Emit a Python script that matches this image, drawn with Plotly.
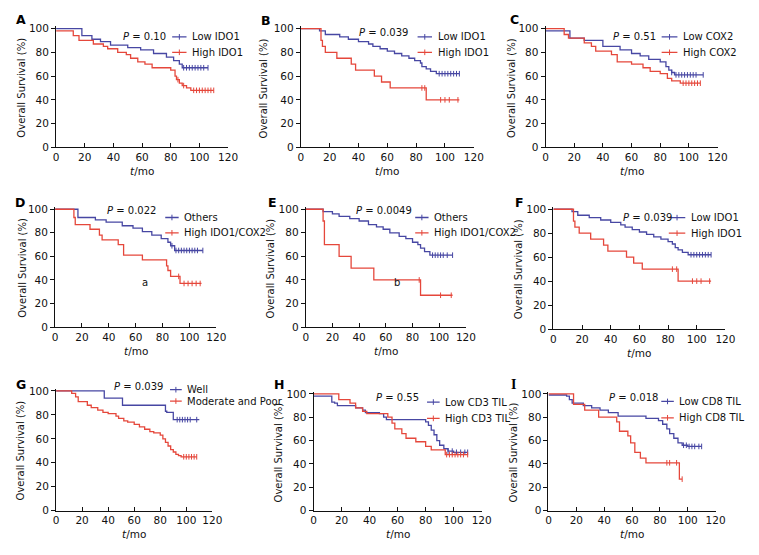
import numpy as np
import plotly.graph_objects as go

W, H = 759, 555
BLUE = "#4747a3"
RED = "#e5473b"
FONT = "DejaVu Sans"

# ---------------- data (time in months, survival in %) ----------------
A_low_t = [0, 18, 25, 31, 38, 50, 59, 68, 77, 82, 86, 88]
A_low_s = [100, 94, 91, 89, 86, 84, 82, 79, 76, 73, 70, 67]
A_low_end = 106
A_low_c = [89, 91, 93, 95, 97, 99, 101, 103, 106]
A_high_t = [0, 12, 16, 26, 33, 36, 43, 49, 52, 57, 62, 67, 80, 83, 84, 86, 88, 91, 94]
A_high_s = [98, 94, 90, 87, 85, 83, 80, 78, 75, 72, 70, 67, 65, 60, 57, 54, 52, 50, 48]
A_high_end = 110
A_high_c = [85, 89, 96, 98, 100, 102, 104, 106, 108, 110]

B_low_t = [0, 13, 17, 27, 33, 40, 47, 50, 55, 60, 65, 70, 75, 79, 83, 84, 87, 90, 94]
B_low_s = [100, 98, 95, 93, 91, 89, 87, 85, 83, 81, 79, 77, 75, 73, 71, 68, 66, 64, 62]
B_low_end = 110
B_low_c = [96, 98, 100, 102, 104, 106, 108, 110]
B_high_t = [0, 14, 15, 17, 25, 35, 38, 51, 56, 62, 87]
B_high_s = [100, 90, 85, 80, 75, 70, 65, 60, 55, 50, 40]
B_high_end = 110
B_high_c = [84, 86, 97, 100, 103, 109]

C_low_t = [0, 17, 27, 40, 52, 60, 66, 72, 80, 84, 86, 88, 90]
C_low_s = [98, 92, 90, 85, 82, 79, 77, 74, 72, 68, 65, 63, 61]
C_low_end = 110
C_low_c = [88, 91, 93, 95, 97, 99, 101, 103, 105, 110]
C_high_t = [0, 13, 16, 27, 32, 35, 46, 50, 60, 68, 73, 80, 85, 88, 94]
C_high_s = [100, 95, 92, 88, 85, 81, 78, 72, 70, 67, 64, 62, 58, 56, 54]
C_high_end = 108
C_high_c = [96, 98, 100, 102, 104, 106, 108]

D_oth_t = [0, 17, 30, 38, 50, 58, 65, 72, 79, 84, 86, 89]
D_oth_s = [100, 93, 91, 89, 86, 84, 81, 78, 75, 72, 69, 65]
D_oth_end = 110
D_oth_c = [87, 90, 92, 94, 96, 98, 100, 102, 104, 106, 110]
D_high_t = [0, 14, 15, 26, 33, 35, 47, 51, 65, 83, 84, 86, 93]
D_high_s = [100, 93, 87, 83, 78, 74, 70, 61, 57, 52, 48, 43, 37]
D_high_end = 109
D_high_c = [92, 96, 99, 102, 105, 108]

E_oth_t = [0, 13, 20, 25, 33, 40, 47, 53, 58, 63, 70, 75, 80, 84, 86, 89, 93]
E_oth_s = [100, 98, 96, 94, 92, 90, 87, 85, 83, 80, 77, 75, 72, 70, 67, 64, 61]
E_oth_end = 110
E_oth_c = [95, 97, 99, 101, 103, 106, 110]
E_high_t = [0, 13, 14, 25, 34, 51, 86]
E_high_s = [100, 90, 70, 60, 50, 40, 27]
E_high_end = 110
E_high_c = [85, 101, 109]

F_low_t = [0, 13, 17, 25, 33, 40, 47, 50, 55, 60, 65, 70, 75, 80, 83, 85, 87, 90, 94]
F_low_s = [100, 98, 95, 93, 91, 89, 87, 85, 83, 81, 79, 77, 75, 73, 71, 68, 66, 64, 62]
F_low_end = 110
F_low_c = [96, 98, 100, 102, 104, 106, 108, 110]
F_high_t = [0, 14, 15, 18, 26, 35, 38, 51, 56, 62, 87]
F_high_s = [100, 90, 85, 80, 75, 70, 65, 60, 55, 50, 40]
F_high_end = 110
F_high_c = [83, 86, 97, 100, 103, 109]

G_well_t = [0, 37, 51, 84, 85, 90]
G_well_s = [100, 94, 88, 83, 82, 76]
G_well_end = 110
G_well_c = [93, 95, 97, 99, 101, 103, 108]
G_mod_t = [0, 12, 15, 17, 24, 27, 32, 36, 40, 46, 48, 52, 55, 60, 64, 68, 72, 75, 80, 82, 84, 86, 88, 90, 92, 94, 96]
G_mod_s = [100, 98, 95, 91, 88, 86, 84, 82, 81, 79, 77, 75, 74, 72, 70, 68, 66, 65, 63, 60, 57, 54, 51, 49, 47, 46, 45]
G_mod_end = 108
G_mod_c = [98, 100, 102, 104, 106, 108]

H_low_t = [0, 13, 15, 17, 30, 35, 37, 47, 50, 52, 80, 82, 84, 86, 88, 90, 93, 96, 100]
H_low_s = [98, 93, 92, 90, 88, 86, 84, 83, 80, 78, 76, 73, 69, 65, 60, 56, 53, 51, 50]
H_low_end = 110
H_low_c = [96, 99, 102, 105, 108, 110]
H_high_t = [0, 18, 26, 30, 35, 38, 53, 56, 58, 63, 66, 73, 80, 84, 94]
H_high_s = [100, 95, 92, 88, 85, 83, 80, 75, 70, 66, 62, 59, 55, 52, 48]
H_high_end = 110
H_high_c = [95, 97, 99, 101, 103, 105, 107, 110]

I_low_t = [0, 13, 15, 17, 25, 31, 37, 43, 50, 70, 79, 82, 85, 87, 90, 93, 96, 100]
I_low_s = [99, 98, 95, 92, 90, 88, 86, 84, 81, 79, 77, 74, 70, 66, 62, 58, 56, 55]
I_low_end = 110
I_low_c = [97, 99, 101, 103, 105, 108, 110]
I_high_t = [0, 18, 26, 36, 49, 51, 57, 59, 62, 66, 70, 94]
I_high_s = [100, 91, 86, 80, 76, 68, 64, 58, 50, 45, 41, 27]
I_high_end = 96
I_high_c = [85, 87, 92, 96]

x_ticks = [0, 20, 40, 60, 80, 100, 120]
y_ticks = [0, 20, 40, 60, 80, 100]

panels = [
    dict(letter="A", box=(54, 229, 25, 146), ytx=19, lxy=(18, 16),
         curves=[(A_low_t, A_low_s, A_low_end, A_low_c, BLUE), (A_high_t, A_high_s, A_high_end, A_high_c, RED)],
         names=["Low IDO1", "High IDO1"], p="0.10", pxy=(45, 93), leg=(81, 91, 93, 80)),
    dict(letter="B", box=(303, 479, 25, 146), ytx=266, lxy=(268, 17),
         curves=[(B_low_t, B_low_s, B_low_end, B_low_c, BLUE), (B_high_t, B_high_s, B_high_end, B_high_c, RED)],
         names=["Low IDO1", "High IDO1"], p="0.039", pxy=(39, 97), leg=(81, 91, 93, 80)),
    dict(letter="C", box=(552, 727, 25, 146), ytx=518, lxy=(520, 16),
         curves=[(C_low_t, C_low_s, C_low_end, C_low_c, BLUE), (C_high_t, C_high_s, C_high_end, C_high_c, RED)],
         names=["Low COX2", "High COX2"], p="0.51", pxy=(46, 93), leg=(81, 92, 93, 80)),
    dict(letter="D", box=(53, 217, 209, 329), ytx=19, lxy=(17, 202),
         curves=[(D_oth_t, D_oth_s, D_oth_end, D_oth_c, BLUE), (D_high_t, D_high_s, D_high_end, D_high_c, RED)],
         names=["Others", "High IDO1/COX2"], p="0.022", pxy=(37.5, 99), leg=(82, 92, 93, 80),
         extra=("a", 67, 38)),
    dict(letter="E", box=(308, 471, 209, 329), ytx=272, lxy=(274, 202),
         curves=[(E_oth_t, E_oth_s, E_oth_end, E_oth_c, BLUE), (E_high_t, E_high_s, E_high_end, E_high_c, RED)],
         names=["Others", "High IDO1/COX2"], p="0.0049", pxy=(36, 99), leg=(82, 92, 93, 80),
         extra=("b", 68, 38)),
    dict(letter="F", box=(560, 735, 209, 331), ytx=524, lxy=(526, 202),
         curves=[(F_low_t, F_low_s, F_low_end, F_low_c, BLUE), (F_high_t, F_high_s, F_high_end, F_high_c, RED)],
         names=["Low IDO1", "High IDO1"], p="0.039", pxy=(47, 93.5), leg=(80.5, 92, 93, 80)),
    dict(letter="G", box=(54, 213, 394, 516), ytx=18, lxy=(18, 387),
         curves=[(G_well_t, G_well_s, G_well_end, G_well_c, BLUE), (G_mod_t, G_mod_s, G_mod_end, G_mod_c, RED)],
         names=["Well", "Moderate and Poor"], p="0.039", pxy=(43, 104), leg=(87.5, 96.5, 101, 91.5)),
    dict(letter="H", box=(316, 487, 397, 516), ytx=280, lxy=(281, 387),
         curves=[(H_low_t, H_low_s, H_low_end, H_low_c, BLUE), (H_high_t, H_high_s, H_high_end, H_high_c, RED)],
         names=["Low CD3 TIL", "High CD3 TIL"], p="0.55", pxy=(43, 97), leg=(81, 90, 93, 79)),
    dict(letter="I", box=(555, 725, 397, 516), ytx=519, lxy=(519, 387),
         curves=[(I_low_t, I_low_s, I_low_end, I_low_c, BLUE), (I_high_t, I_high_s, I_high_end, I_high_c, RED)],
         names=["Low CD8 TIL", "High CD8 TIL"], p="0.018", pxy=(42, 97), leg=(81, 90, 93.5, 79.5)),
]

YMAX = 102

fig = go.Figure()
annotations = []
shapes = []


def step_value(t, s, x):
    idx = np.searchsorted(np.asarray(t), x, side="right") - 1
    return s[max(idx, 0)]


for i, pn in enumerate(panels):
    k = "" if i == 0 else str(i + 1)
    xr, yr = "x" + k, "y" + k
    x0, x1, ytop, ybot = pn["box"]
    top_px = ybot - (ybot - ytop) * YMAX / 100.0
    fig.layout["xaxis" + k] = dict(
        domain=[x0 / W, x1 / W], range=[0, 120], anchor=yr,
        tickvals=x_ticks, ticks="inside", ticklen=4, tickwidth=1, tickcolor="#111",
        showline=True, linecolor="#111", linewidth=1, showgrid=False, zeroline=False,
        tickfont=dict(family=FONT, size=10.5, color="#111"), fixedrange=True)
    fig.layout["yaxis" + k] = dict(
        domain=[1 - ybot / H, 1 - top_px / H], range=[0, YMAX], anchor=xr,
        tickvals=y_ticks, ticks="outside", ticklen=4, tickwidth=1, tickcolor="#111",
        showline=True, linecolor="#111", linewidth=1, showgrid=False, zeroline=False,
        tickfont=dict(family=FONT, size=10.5, color="#111"), fixedrange=True)

    for (t, s, end, cens, col) in pn["curves"]:
        xs = list(t) + [end]
        ys = list(s) + [s[-1]]
        fig.add_trace(go.Scatter(x=xs, y=ys, mode="lines", line=dict(color=col, width=1.3, shape="hv"),
                                 xaxis=xr, yaxis=yr, showlegend=False, hoverinfo="skip"))
        cy = [step_value(t, s, c) for c in cens]
        fig.add_trace(go.Scatter(x=cens, y=cy, mode="markers",
                                 marker=dict(symbol="line-ns", size=4, line=dict(color=col, width=1)),
                                 xaxis=xr, yaxis=yr, showlegend=False, hoverinfo="skip", cliponaxis=False))

    yd = yr + " domain"
    # P value
    px, py = pn["pxy"]
    annotations.append(dict(x=px, y=py / YMAX, xref=xr, yref=yd, text="<i>P</i> = " + pn["p"], showarrow=False,
                            xanchor="left", yanchor="middle", font=dict(family=FONT, size=10, color="#111")))
    # legend
    lx1, lx2, ly1, ly2 = pn["leg"]
    for (ly, col, nm) in [(ly1, BLUE, pn["names"][0]), (ly2, RED, pn["names"][1])]:
        shapes.append(dict(type="line", xref=xr, yref=yr, x0=lx1, x1=lx2, y0=ly, y1=ly,
                           line=dict(color=col, width=1.3)))
        fig.add_trace(go.Scatter(x=[(lx1 + lx2) / 2], y=[ly], mode="markers",
                                 marker=dict(symbol="line-ns", size=4, line=dict(color=col, width=1)),
                                 xaxis=xr, yaxis=yr, showlegend=False, hoverinfo="skip", cliponaxis=False))
        annotations.append(dict(x=lx2 + 2.5, y=ly / YMAX, xref=xr, yref=yd, text=nm, showarrow=False,
                                xanchor="left", yanchor="middle", font=dict(family=FONT, size=10, color="#111")))
    if "extra" in pn:
        tx, ex, ey = pn["extra"]
        annotations.append(dict(x=ex, y=ey / YMAX, xref=xr, yref=yd, text=tx, showarrow=False,
                                font=dict(family=FONT, size=10, color="#111")))

    # axis titles
    annotations.append(dict(x=pn["ytx"] / W, y=1 - (ytop + ybot) / 2 / H, xref="paper", yref="paper",
                            text="Overall Survival (%)", textangle=-90, showarrow=False,
                            xanchor="center", yanchor="middle", font=dict(family=FONT, size=10, color="#111")))
    annotations.append(dict(x=(x0 + x1) / 2 / W, y=1 - (ybot + 24) / H, xref="paper", yref="paper",
                            text="<i>t</i>/mo", showarrow=False, xanchor="center", yanchor="middle",
                            font=dict(family=FONT, size=10.5, color="#111")))
    # panel letter
    lx, ly = pn["lxy"]
    lfont = "Liberation Serif" if pn["letter"] == "I" else FONT
    annotations.append(dict(x=lx / W, y=1 - ly / H, xref="paper", yref="paper",
                            text="<b>" + pn["letter"] + "</b>", showarrow=False, xanchor="center", yanchor="middle",
                            font=dict(family=lfont, size=14 if pn["letter"] == "I" else 12.5, color="#000")))

fig.update_layout(width=W, height=H, margin=dict(l=0, r=0, t=0, b=0),
                  paper_bgcolor="white", plot_bgcolor="white",
                  annotations=annotations, shapes=shapes, showlegend=False)

fig.write_html("out.html", config={"displayModeBar": False},
               post_script="document.body.style.margin='0px';document.body.style.overflow='hidden';")
